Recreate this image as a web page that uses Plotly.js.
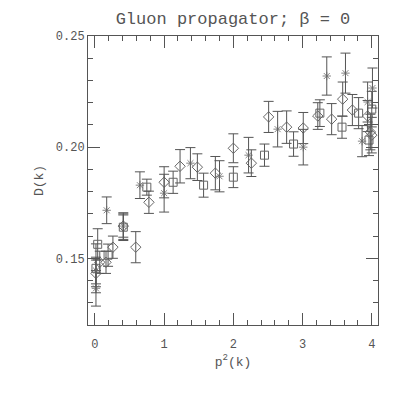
<!DOCTYPE html>
<html>
<head>
<meta charset="utf-8">
<script src="https://cdn.plot.ly/plotly-3.0.1.min.js"></script>
<style>
  html, body { margin: 0; padding: 0; background: #fff; }
  #chart { width: 399px; height: 399px; }
</style>
</head>
<body>
<div id="chart"></div>
<script>
// squares
const sqX = [0.015, 0.04, 0.19, 0.41, 0.75, 1.13, 1.57, 2.0, 2.45, 2.87, 3.25, 3.57, 3.81, 3.96, 4.0];
const sqY = [0.1455, 0.1563, 0.1514, 0.164, 0.182, 0.1842, 0.1829, 0.1865, 0.1964, 0.2014, 0.2153, 0.209, 0.2153, 0.2032, 0.2171];
const sqErr = [0.011, 0.007, 0.005, 0.006, 0.0036, 0.005, 0.0054, 0.0047, 0.005, 0.0055, 0.006, 0.005, 0.007, 0.007, 0.008];

// diamonds
const diX = [0.015, 0.07, 0.16, 0.26, 0.41, 0.59, 0.78, 1.0, 1.23, 1.48, 1.74, 2.0, 2.26, 2.51, 2.77, 3.01, 3.22, 3.42, 3.58, 3.72, 3.94, 3.98, 4.0];
const diY = [0.1432, 0.1482, 0.1482, 0.155, 0.1645, 0.155, 0.1752, 0.1842, 0.1914, 0.191, 0.1883, 0.1995, 0.1928, 0.2136, 0.209, 0.2086, 0.214, 0.2126, 0.2216, 0.2167, 0.214, 0.2068, 0.2054];
const diErr = [0.006, 0.005, 0.005, 0.005, 0.005, 0.007, 0.005, 0.007, 0.0075, 0.006, 0.0075, 0.0065, 0.006, 0.007, 0.0073, 0.007, 0.006, 0.007, 0.0077, 0.007, 0.007, 0.008, 0.008];

// asterisks
const stX = [0.015, 0.015, 0.17, 0.41, 0.65, 1.0, 1.38, 1.8, 2.22, 2.64, 3.01, 3.35, 3.62, 3.86, 3.94, 4.01];
const stY = [0.1365, 0.1445, 0.1716, 0.1645, 0.1829, 0.1793, 0.1928, 0.1869, 0.1964, 0.2081, 0.2, 0.232, 0.2333, 0.2027, 0.2203, 0.2266];
const stErr = [0.008, 0.006, 0.006, 0.006, 0.006, 0.0085, 0.007, 0.007, 0.008, 0.008, 0.008, 0.0086, 0.009, 0.007, 0.009, 0.009];

const ink = '#555555';
const markInk = '#666666';
const fontFam = '"Liberation Mono", "DejaVu Sans Mono", monospace';

function series(x, y, err, symbol, size, lw) {
  return {
    x: x, y: y, type: 'scatter', mode: 'markers',
    marker: { symbol: symbol, size: size, color: markInk, line: { color: markInk, width: lw } },
    error_y: { type: 'data', array: err, visible: true, color: ink, thickness: 1, width: 5 },
    showlegend: false, hoverinfo: 'x+y'
  };
}

const data = [
  series(sqX, sqY, sqErr, 'square-open', 8, 1),
  series(diX, diY, diErr, 'diamond-open', 8, 1),
  series(stX, stY, stErr, 'asterisk-open', 7, 0.8)
];

const axisBase = {
  showgrid: false, zeroline: false,
  showline: true, linecolor: ink, linewidth: 1, mirror: 'allticks',
  ticks: 'inside', ticklen: 12, tickcolor: ink, tickwidth: 1,
  tickfont: { family: fontFam, size: 12, color: ink }
};

const layout = {
  width: 399, height: 399,
  paper_bgcolor: '#ffffff', plot_bgcolor: '#ffffff',
  margin: { l: 88, r: 21, t: 36, b: 74 },
  title: {
    text: 'Gluon propagator; β = 0',
    font: { family: fontFam, size: 17, color: ink },
    x: 0.5, xref: 'paper', y: 0.955, yanchor: 'middle'
  },
  xaxis: Object.assign({}, axisBase, {
    range: [-0.1, 4.09], tick0: 0, dtick: 1,
    minor: { ticks: 'inside', ticklen: 5, dtick: 0.2, tick0: 0, tickcolor: ink, showgrid: false },
    ticklabelstandoff: 8,
    title: { text: 'p<sup>2</sup>(k)', font: { family: fontFam, size: 13, color: ink }, standoff: 0 }
  }),
  yaxis: Object.assign({}, axisBase, {
    range: [0.12, 0.25], tick0: 0.15, dtick: 0.05, tickformat: '.2f',
    minor: { ticks: 'inside', ticklen: 5, dtick: 0.01, tick0: 0.12, tickcolor: ink, showgrid: false },
    title: { text: 'D(k)', font: { family: fontFam, size: 13, color: ink }, standoff: 9 }
  })
};

Plotly.newPlot('chart', data, layout, { displayModeBar: false, staticPlot: true });
</script>
</body>
</html>
